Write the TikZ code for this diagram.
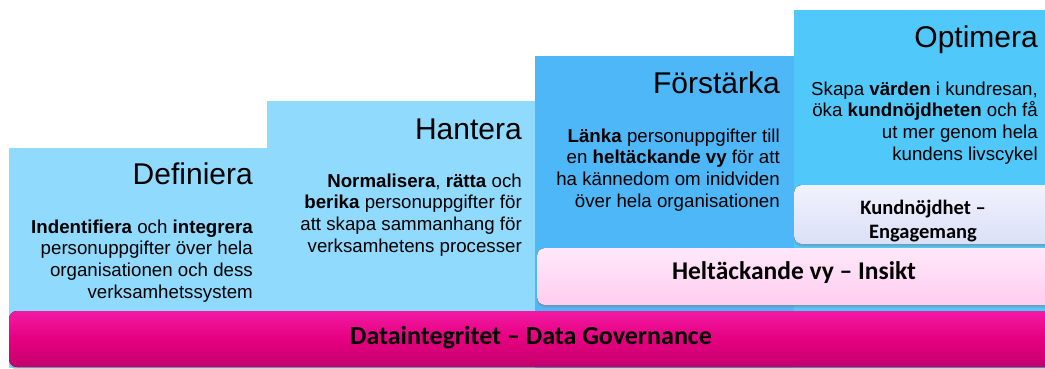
\documentclass[tikz,border=0pt]{standalone}
\usepackage{fontspec}
\setmainfont{Liberation Sans}
\newfontfamily\calibri{Carlito}
\usetikzlibrary{shadows}

\definecolor{stepA}{HTML}{8FDAFD}
\definecolor{stepC}{HTML}{4DB7F8}
\definecolor{stepD}{HTML}{50C8FA}
\definecolor{lavtop}{HTML}{F0F2FD}
\definecolor{lavbot}{HTML}{DCE0F7}
\definecolor{pinktop}{HTML}{FFE8F9}
\definecolor{pinkbot}{HTML}{FFCDF1}
\definecolor{magtop}{HTML}{F21AA2}
\definecolor{mag}{HTML}{E5007F}
\definecolor{magbot}{HTML}{C3006E}

\begin{document}
\begin{tikzpicture}[x=1pt,y=-1pt,
    steptitle/.style={anchor=base east, inner sep=0pt, font=\fontsize{30}{36}\selectfont},
    steptext/.style={anchor=north east, inner sep=0pt, align=right, font=\fontsize{18.7}{21.7}\selectfont},
    bar/.style={rounded corners=8pt, drop shadow={opacity=0.35, shadow xshift=0pt, shadow yshift=-2.5pt}},
    bartext/.style={inner sep=0pt, align=center, font=\calibri\bfseries\fontsize{26}{28}\selectfont}]
    \useasboundingbox (0,0) rectangle (1045,368);

    \fill[stepA] (9,148) rectangle (268,368);
    \fill[stepA] (267,101) rectangle (536,368);
    \fill[stepC] (535,56) rectangle (795,368);
    \fill[stepD] (794,10) rectangle (1060,368);

    \node[steptitle] (def) at (253,184) {Definiera};
    \node[steptitle] (han) at (522,139) {Hantera};
    \node[steptitle] (for) at (780,93) {Förstärka};
    \node[steptitle] (opt) at (1038,47) {Optimera};

    \node[steptext] (defx) at (253,219.5) {\textbf{Indentifiera} och \textbf{integrera}\\personuppgifter över hela\\organisationen och dess\\verksamhetssystem};
    \node[steptext] (hanx) at (522,173.5) {\textbf{Normalisera}, \textbf{rätta} och\\\textbf{berika} personuppgifter för\\att skapa sammanhang för\\verksamhetens processer};
    \node[steptext] (forx) at (780,128.5) {\textbf{Länka} personuppgifter till\\en \textbf{heltäckande vy} för att\\ha kännedom om inidviden\\över hela organisationen};
    \node[steptext] (optx) at (1038,81.5) {Skapa \textbf{värden} i kundresan,\\öka \textbf{kundnöjdheten} och få\\ut mer genom hela\\kundens livscykel};

    \fill[bar, top color=lavtop, bottom color=lavbot] (794,185) rectangle (1070,244);
    \fill[bar, top color=pinktop, bottom color=pinkbot] (537,248) rectangle (1070,305);
    \fill[bar, top color=magtop, bottom color=magbot, middle color=mag] (9,311) rectangle (1070,367);

    \node[bartext, font=\calibri\bfseries\fontsize{20.5}{24}\selectfont] (kund) at (923,221) {Kundnöjdhet –\\Engagemang};
    \node[bartext, font=\calibri\bfseries\fontsize{25.5}{28}\selectfont] (vy) at (794,273) {Heltäckande vy – Insikt};
    \node[bartext] (gov) at (531,338) {Dataintegritet – Data Governance};
\end{tikzpicture}
\end{document}
